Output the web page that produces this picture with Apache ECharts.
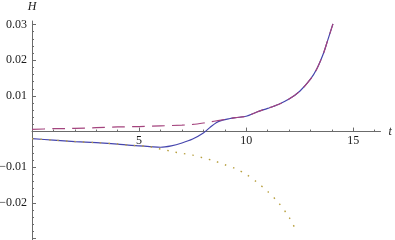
<!DOCTYPE html>
<html>
<head>
<meta charset="utf-8">
<script src="https://cdn.jsdelivr.net/npm/echarts@6/dist/echarts.min.js"></script>
<style>html,body{margin:0;padding:0;background:#fff;}#c{width:395px;height:240px;}</style>
</head>
<body>
<div id="c"></div>
<script>
// solid blue curve
const tBlue = [0, 1, 2, 3, 4, 4.5, 5, 5.5, 6, 6.5, 7, 7.5, 8, 8.3, 8.6, 8.9, 9.2, 9.5, 10, 10.5, 11, 11.5, 12, 12.5, 13, 13.3, 13.6, 13.8, 14.05];
const hBlue = [-0.0020, -0.0024, -0.0028, -0.0031, -0.0035, -0.0038, -0.0040, -0.0042, -0.0044, -0.0040, -0.0032, -0.0021, -0.0004, 0.0011, 0.0025, 0.0032, 0.0036, 0.0039, 0.0043, 0.0055, 0.0065, 0.0076, 0.0091, 0.0113, 0.0147, 0.0176, 0.0218, 0.0255, 0.0302];
// dashed purple curve
const tDash = [0, 1, 2, 3, 4, 5, 6, 7, 7.5, 8, 8.5, 9, 9.5, 10, 10.5, 11, 11.5, 12, 12.5, 13, 13.3, 13.6, 13.8, 14.05];
const hDash = [0.0006, 0.0008, 0.0009, 0.0011, 0.0013, 0.0014, 0.0016, 0.0018, 0.0020, 0.0024, 0.0029, 0.0034, 0.0039, 0.0043, 0.0055, 0.0065, 0.0076, 0.0091, 0.0113, 0.0147, 0.0176, 0.0218, 0.0255, 0.0302];
// dotted yellow curve
const tDot = [0, 1, 2, 3, 4, 4.5, 5, 5.5, 5.83, 6.2, 6.6, 7, 7.5, 8, 8.5, 9, 9.5, 10, 10.5, 11, 11.5, 12, 12.35];
const hDot = [-0.0020, -0.0024, -0.0028, -0.0031, -0.0035, -0.0038, -0.0040, -0.0042, -0.0047, -0.0051, -0.0057, -0.0061, -0.0066, -0.0074, -0.0082, -0.0093, -0.0104, -0.0120, -0.0142, -0.0168, -0.0199, -0.0240, -0.0280];

// ticks
const xMajorTicks = [5, 10, 15];
const xMinorTicks = [1, 2, 3, 4, 6, 7, 8, 9, 11, 12, 13, 14, 16];
const yMajorTicks = [-0.03, -0.02, -0.01, 0.01, 0.02, 0.03];
const yMinorTicks = [];
for (let i = -15; i <= 15; i++) { if (i % 5 !== 0) yMinorTicks.push(+(i * 0.002).toFixed(3)); }
const yLabels = {'-0.03': '', '-0.02': '\u22120.02', '-0.01': '\u22120.01', '0.01': '0.01', '0.02': '0.02', '0.03': '0.03'};

const zip = (a, b) => a.map((v, i) => [v, b[i]]);

const font = 'Liberation Serif';
const axisColor = '#6b6b6b';
const xMin = 0, xMax = 16.27, yMin = -0.0304, yMax = 0.031;
const W = 395, H = 240;
const G = {left: 32, right: 14.5, top: 21, bottom: 0};
// distance (px) of the y = 0 line above the grid bottom, from the axis scale
const zeroOffset = (0 - yMin) / (yMax - yMin) * (H - G.top - G.bottom);

const chart = echarts.init(document.getElementById('c'), null, {renderer: 'canvas'});
chart.setOption({
  animation: false,
  grid: Object.assign({containLabel: false, outerBoundsMode: 'none'}, G),
  xAxis: [{
    type: 'value', min: xMin, max: xMax, position: 'bottom', offset: -zeroOffset,
    axisLine: {onZero: false, lineStyle: {color: axisColor, width: 1}},
    axisTick: {show: true, inside: true, length: 2, customValues: xMinorTicks, lineStyle: {color: axisColor}},
    axisLabel: {customValues: xMajorTicks, margin: 3, color: '#1a1a1a', fontFamily: font, fontSize: 12},
    splitLine: {show: false},
    name: 't', nameLocation: 'end', nameGap: 8,
    nameTextStyle: {fontFamily: font, fontStyle: 'italic', fontSize: 12, color: '#1a1a1a'}
  }, {
    type: 'value', min: xMin, max: xMax, position: 'bottom', offset: -zeroOffset,
    axisLine: {show: false, onZero: false},
    axisTick: {show: true, inside: true, length: 4, customValues: xMajorTicks, lineStyle: {color: axisColor}},
    axisLabel: {show: false},
    splitLine: {show: false}
  }],
  yAxis: [{
    type: 'value', min: yMin, max: yMax, position: 'left',
    axisLine: {show: true, onZero: false, lineStyle: {color: axisColor, width: 1}},
    axisTick: {show: true, inside: true, length: 2, customValues: yMinorTicks, lineStyle: {color: axisColor}},
    axisLabel: {customValues: yMajorTicks, margin: 5, color: '#1a1a1a', fontFamily: font, fontSize: 12,
      formatter: v => { const k = (+v).toFixed(2); return yLabels[k] !== undefined ? yLabels[k] : ''; }},
    splitLine: {show: false},
    name: 'H', nameLocation: 'end', nameGap: 8,
    nameTextStyle: {fontFamily: font, fontStyle: 'italic', fontSize: 12, color: '#1a1a1a'}
  }, {
    type: 'value', min: yMin, max: yMax, position: 'left',
    axisLine: {show: false, onZero: false},
    axisTick: {show: true, inside: true, length: 4, customValues: yMajorTicks, lineStyle: {color: axisColor}},
    axisLabel: {show: false},
    splitLine: {show: false}
  }],
  series: [{
    type: 'line', xAxisIndex: 0, yAxisIndex: 0, data: zip(tBlue, hBlue),
    showSymbol: false, smooth: 0.3,
    lineStyle: {color: '#4545ad', width: 1.2}
  }, {
    type: 'line', xAxisIndex: 0, yAxisIndex: 0, data: zip(tDash, hDash),
    showSymbol: false, smooth: 0.3,
    lineStyle: {color: '#a4447e', width: 1.2, type: [13, 7]}
  }, {
    type: 'line', xAxisIndex: 0, yAxisIndex: 0, data: zip(tDot, hDot),
    showSymbol: false, smooth: 0.3,
    lineStyle: {color: '#b8a040', width: 1.4, type: [1.5, 7]}
  }]
});
</script>
</body>
</html>
